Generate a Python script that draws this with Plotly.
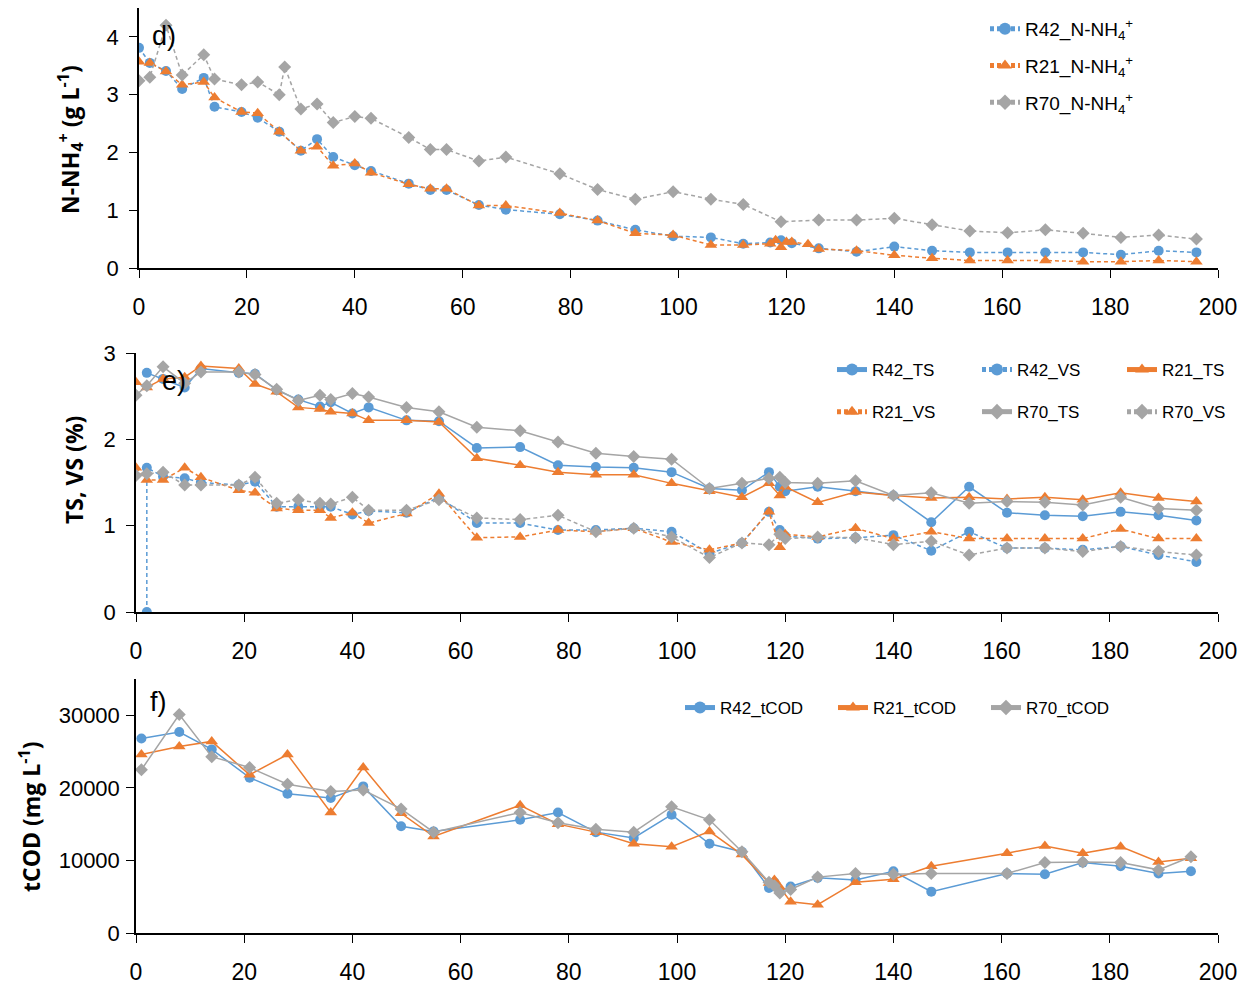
import plotly.graph_objects as go

# ---------------- Panel d: N-NH4+ ----------------
d_days_r42 = [0, 2, 5, 8, 12, 14, 19, 22, 26, 30, 33, 36, 40, 43, 50, 54, 57, 63, 68, 78,
              85, 92, 99, 106, 112, 117, 119, 121, 126, 133, 140, 147, 154, 161, 168, 175, 182, 189, 196]
r42_nh4 = [3.81, 3.55, 3.41, 3.10, 3.29, 2.79, 2.70, 2.60, 2.36, 2.03,
           2.23, 1.92, 1.78, 1.68, 1.46, 1.35, 1.35, 1.09, 1.01, 0.93,
           0.82, 0.66, 0.55, 0.53, 0.42, 0.44, 0.48, 0.43, 0.34, 0.28,
           0.37, 0.30, 0.27, 0.27, 0.27, 0.27, 0.23, 0.30, 0.27]
d_days_r21 = [0, 2, 5, 8, 12, 14, 19, 22, 26, 30, 33, 36, 40, 43, 50, 54, 57, 63, 68, 78,
              85, 92, 99, 106, 112, 117, 118, 119, 120, 121, 124, 126, 133, 140, 147, 154, 161, 168, 175, 182,
              189, 196]
r21_nh4 = [3.57, 3.55, 3.40, 3.17, 3.22, 2.95, 2.70, 2.68, 2.36, 2.03,
           2.10, 1.77, 1.81, 1.65, 1.45, 1.37, 1.37, 1.08, 1.08, 0.95,
           0.82, 0.60, 0.57, 0.40, 0.40, 0.42, 0.48, 0.36, 0.45, 0.45,
           0.41, 0.33, 0.30, 0.22, 0.17, 0.13, 0.13, 0.13, 0.11, 0.11,
           0.13, 0.11]
d_days_r70 = [0, 2, 5, 8, 12, 14, 19, 22, 26, 27, 30, 33, 36, 40, 43, 50, 54, 57, 63, 68,
              78, 85, 92, 99, 106, 112, 119, 126, 133, 140, 147, 154, 161, 168, 175, 182, 189, 196]
r70_nh4 = [3.24, 3.30, 4.20, 3.34, 3.69, 3.27, 3.17, 3.22, 3.00, 3.48,
           2.75, 2.84, 2.52, 2.62, 2.59, 2.26, 2.05, 2.05, 1.85, 1.92,
           1.63, 1.36, 1.19, 1.32, 1.19, 1.10, 0.80, 0.83, 0.83, 0.86,
           0.75, 0.64, 0.61, 0.66, 0.60, 0.53, 0.57, 0.50]

# ---------------- Panel e: TS, VS ----------------
e_days = [0, 2, 5, 9, 12, 19, 22, 26, 30, 34, 36, 40, 43, 50, 56, 63, 71, 78, 85, 92,
          99, 106, 112, 117, 119, 120, 126, 133, 140, 147, 154, 161, 168, 175, 182, 189, 196]
e_days_r42 = e_days[1:]
r42_ts = [2.77, 2.70, 2.60, 2.82, 2.77, 2.76, 2.57, 2.46, 2.38, 2.43,
          2.30, 2.37, 2.22, 2.21, 1.90, 1.91, 1.70, 1.68, 1.67, 1.62,
          1.43, 1.41, 1.62, 1.45, 1.40, 1.45, 1.40, 1.35, 1.04, 1.45,
          1.15, 1.12, 1.11, 1.16, 1.12, 1.06]
e_days_r42_vs = [2] + e_days[1:]
r42_vs = [0.0,
          1.67, 1.57, 1.55, 1.50, 1.47, 1.51, 1.22, 1.22, 1.22, 1.22,
          1.13, 1.17, 1.15, 1.33, 1.03, 1.03, 0.95, 0.95, 0.97, 0.93,
          0.68, 0.80, 1.16, 0.95, 0.88, 0.85, 0.86, 0.89, 0.71, 0.93,
          0.74, 0.74, 0.72, 0.76, 0.66, 0.58]
r21_ts = [2.66, 2.60, 2.70, 2.72, 2.85, 2.82, 2.64, 2.55, 2.37, 2.35,
          2.32, 2.30, 2.22, 2.22, 2.20, 1.78, 1.70, 1.62, 1.59, 1.59,
          1.49, 1.40, 1.33, 1.49, 1.35, 1.45, 1.27, 1.39, 1.35, 1.32,
          1.33, 1.31, 1.33, 1.30, 1.38, 1.32, 1.28]
r21_vs = [1.67, 1.53, 1.53, 1.67, 1.56, 1.41, 1.38, 1.20, 1.18, 1.18,
          1.09, 1.15, 1.03, 1.14, 1.37, 0.86, 0.87, 0.95, 0.93, 0.97,
          0.81, 0.72, 0.80, 1.16, 0.75, 0.90, 0.87, 0.97, 0.85, 0.93,
          0.85, 0.85, 0.85, 0.85, 0.96, 0.85, 0.85]
r70_ts = [2.51, 2.62, 2.84, 2.65, 2.78, 2.78, 2.75, 2.58, 2.45, 2.51,
          2.46, 2.53, 2.49, 2.37, 2.32, 2.14, 2.10, 1.97, 1.84, 1.80,
          1.77, 1.43, 1.49, 1.55, 1.56, 1.50, 1.49, 1.52, 1.35, 1.38,
          1.26, 1.28, 1.27, 1.24, 1.33, 1.20, 1.18]
r70_vs = [1.58, 1.60, 1.62, 1.47, 1.47, 1.47, 1.56, 1.26, 1.30, 1.26,
          1.25, 1.33, 1.18, 1.18, 1.30, 1.09, 1.07, 1.12, 0.93, 0.97,
          0.87, 0.63, 0.80, 0.78, 0.90, 0.85, 0.87, 0.86, 0.78, 0.82,
          0.66, 0.74, 0.74, 0.70, 0.76, 0.70, 0.66]

# ---------------- Panel f: tCOD ----------------
f_days = [1, 8, 14, 21, 28, 36, 42, 49, 55, 71, 78, 85, 92, 99, 106, 112, 117, 118, 119, 121,
          126, 133, 140, 147, 161, 168, 175, 182, 189, 195]
r42_tcod = [26800, 27700, 25300, 21400, 19200, 18600, 20200, 14700, 14000, 15600,
            16600, 13900, 13100, 16300, 12300, 11200, 6200, 7000, 5800, 6400,
            7600, 7300, 8500, 5700, 8200, 8100, 9700, 9200, 8200, 8500]
r21_tcod = [24600, 25700, 26400, 21800, 24600, 16600, 22800, 16500, 13300, 17600,
            15000, 13900, 12300, 11900, 14000, 10800, 6900, 7300, 6300, 4300,
            3900, 7000, 7400, 9200, 11000, 12000, 11000, 11900, 9800, 10300]
r70_tcod = [22500, 30100, 24300, 22800, 20500, 19500, 19700, 17100, 13900, 16600,
            15200, 14300, 13900, 17400, 15600, 11200, 7000, 6500, 5500, 6000,
            7700, 8200, 8100, 8200, 8200, 9700, 9800, 9700, 8700, 10500]

x_ticks = [0, 20, 40, 60, 80, 100, 120, 140, 160, 180, 200]

BLUE = "#5B9BD5"
ORANGE = "#ED7D31"
GRAY = "#A5A5A5"
TICKFONT = "Liberation Sans, Arial, sans-serif"
BOLD = "Open Sans, Liberation Sans, sans-serif"
DASH = "4px,3px"

fig = go.Figure()

def add(x, y, name, color, symbol, dash, xa, ya, legend, size=10):
    fig.add_trace(go.Scatter(
        x=x, y=y, name=name, mode="lines+markers", legendgroup=name,
        line=dict(color=color, width=1.5, dash=dash),
        marker=dict(color=color, symbol=symbol, size=size),
        xaxis=xa, yaxis=ya, legend=legend))

# panel d
add(d_days_r42, r42_nh4, "R42_N-NH<sub>4</sub><sup>+</sup>", BLUE, "circle", DASH, "x", "y", "legend")
add(d_days_r21, r21_nh4, "R21_N-NH<sub>4</sub><sup>+</sup>", ORANGE, "triangle-up", DASH, "x", "y", "legend", 11)
add(d_days_r70, r70_nh4, "R70_N-NH<sub>4</sub><sup>+</sup>", GRAY, "diamond", DASH, "x", "y", "legend")

# panel e (legend laid out as three columns of two entries)
add(e_days_r42, r42_ts, "R42_TS", BLUE, "circle", "solid", "x2", "y2", "legend2")
add(e_days_r42_vs, r42_vs, "R42_VS", BLUE, "circle", DASH, "x2", "y2", "legend4")
add(e_days, r21_ts, "R21_TS", ORANGE, "triangle-up", "solid", "x2", "y2", "legend5", 11)
add(e_days, r21_vs, "R21_VS", ORANGE, "triangle-up", DASH, "x2", "y2", "legend2", 11)
add(e_days, r70_ts, "R70_TS", GRAY, "diamond", "solid", "x2", "y2", "legend4")
add(e_days, r70_vs, "R70_VS", GRAY, "diamond", DASH, "x2", "y2", "legend5")

# panel f
add(f_days, r42_tcod, "R42_tCOD", BLUE, "circle", "solid", "x3", "y3", "legend3")
add(f_days, r21_tcod, "R21_tCOD", ORANGE, "triangle-up", "solid", "x3", "y3", "legend3", 11)
add(f_days, r70_tcod, "R70_tCOD", GRAY, "diamond", "solid", "x3", "y3", "legend3")

W, H = 1242, 993
def px(xp): return xp / W
def py(yp): return 1 - yp / H

xcommon = dict(range=[0, 200], tickvals=x_ticks, showline=True, linecolor="black", linewidth=1.5,
               ticks="outside", ticklen=8, tickcolor="black", showgrid=False, zeroline=False,
               automargin=False, ticklabelstandoff=10,
               tickfont=dict(family=TICKFONT, size=23, color="black"))
ycommon = dict(showline=True, linecolor="black", linewidth=1.5, ticks="outside", ticklen=8,
               tickcolor="black", showgrid=False, zeroline=False, automargin=False,
               tickformat="d", tickfont=dict(family=TICKFONT, size=22, color="black"))

legend_common = dict(bgcolor="rgba(0,0,0,0)", font=dict(family=TICKFONT, size=17, color="black"),
                     itemsizing="constant", xanchor="left", yanchor="top")
e_col = dict(orientation="v", tracegroupgap=17, **legend_common)

fig.update_layout(
    template="none",
    width=W, height=H, autosize=False,
    margin=dict(l=0, r=0, t=0, b=0),
    paper_bgcolor="white", plot_bgcolor="white",
    xaxis=dict(domain=[px(139), px(1218)], anchor="y", **xcommon),
    yaxis=dict(domain=[py(268), py(8)], anchor="x", range=[0, 4.5], tickvals=[0, 1, 2, 3, 4],
               ticklabelstandoff=6, **ycommon),
    xaxis2=dict(domain=[px(136), px(1218)], anchor="y2", **xcommon),
    yaxis2=dict(domain=[py(612), py(353)], anchor="x2", range=[0, 3], tickvals=[0, 1, 2, 3],
                ticklabelstandoff=6, **ycommon),
    xaxis3=dict(domain=[px(136), px(1218)], anchor="y3", **xcommon),
    yaxis3=dict(domain=[py(933), py(679)], anchor="x3", range=[0, 35000],
                tickvals=[0, 10000, 20000, 30000], ticklabelstandoff=2, **ycommon),
    legend=dict(x=px(985), y=py(10), orientation="v", tracegroupgap=9,
                **{**legend_common, "font": dict(family=TICKFONT, size=19, color="black")}),
    legend2=dict(x=px(832), y=py(352), **e_col),
    legend4=dict(x=px(977), y=py(352), **e_col),
    legend5=dict(x=px(1122), y=py(352), **e_col),
    legend3=dict(x=px(680), y=py(690), orientation="h", entrywidth=108, **legend_common),
    showlegend=True,
)

for label, xp, yp in [("d)", 150, 36), ("e)", 160, 381), ("f)", 148, 702)]:
    fig.add_annotation(text=label, x=px(xp), y=py(yp), xref="paper", yref="paper",
                       xanchor="left", yanchor="middle", showarrow=False,
                       font=dict(family=TICKFONT, size=27, color="black"))

title_font = dict(family=BOLD, size=23, color="black", weight="bold")
for text, xp, yp in [("N-NH<sub>4</sub><sup>+</sup> (g L<sup>-1</sup>)", 70, 140),
                     ("TS, VS (%)", 74, 470),
                     ("tCOD (mg L<sup>-1</sup>)", 30, 817)]:
    fig.add_annotation(text=text, x=px(xp), y=py(yp), xref="paper", yref="paper",
                       xanchor="center", yanchor="middle", textangle=-90, showarrow=False,
                       font=title_font)

fig.write_html("out.html", config={"displayModeBar": False},
               post_script="document.body.style.margin='0';document.body.style.overflow='hidden';")
